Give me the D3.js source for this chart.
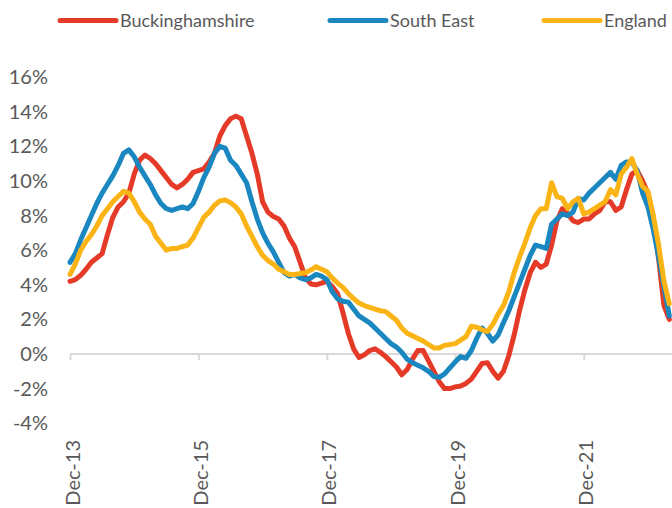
<!DOCTYPE html>
<html><head><meta charset="utf-8">
<script src="https://cdn.jsdelivr.net/npm/d3@7/dist/d3.min.js"></script>
<style>
html,body{margin:0;padding:0;background:#fff;}
svg{display:block;}
</style></head>
<body>
<svg id="c" width="672" height="508"></svg>
<script>
// Monthly series starting Dec-13 (index 0)
const seriesNames = ["Buckinghamshire", "South East", "England"];
const buckinghamshire = [4.2,4.3,4.55,4.9,5.3,5.55,5.8,6.9,7.9,8.5,8.8,9.3,10.4,11.2,11.5,11.3,11.0,10.6,10.2,9.8,9.6,9.8,10.1,10.5,10.6,10.7,11.1,11.6,12.6,13.2,13.6,13.75,13.6,12.6,11.6,10.4,8.8,8.2,7.95,7.8,7.4,6.7,6.2,5.3,4.4,4.05,4.0,4.1,4.2,3.9,3.5,2.4,1.2,0.3,-0.2,-0.05,0.2,0.3,0.1,-0.15,-0.45,-0.75,-1.2,-0.9,-0.3,0.2,0.2,-0.4,-1.0,-1.6,-2.0,-2.0,-1.9,-1.85,-1.7,-1.45,-1.0,-0.55,-0.5,-1.0,-1.4,-1.0,-0.1,1.1,2.5,3.7,4.7,5.3,5.0,5.2,6.3,7.7,8.4,8.1,7.7,7.6,7.8,7.8,8.1,8.3,8.8,8.8,8.3,8.5,9.5,10.4,10.6,10.0,9.3,7.9,5.5,2.8,2.0];
const southEast = [5.3,5.8,6.6,7.3,8.0,8.7,9.3,9.8,10.3,10.9,11.6,11.8,11.4,10.8,10.3,9.8,9.2,8.7,8.4,8.3,8.4,8.5,8.4,8.7,9.4,10.2,10.8,11.6,12.0,11.9,11.2,10.9,10.4,9.9,8.8,7.8,7.0,6.4,5.9,5.3,4.7,4.5,4.6,4.4,4.3,4.4,4.6,4.5,4.3,3.6,3.2,3.05,3.0,2.6,2.2,2.0,1.8,1.5,1.2,0.9,0.6,0.4,0.1,-0.3,-0.5,-0.65,-0.8,-1.0,-1.3,-1.35,-1.15,-0.8,-0.45,-0.15,-0.25,0.2,0.9,1.5,1.2,0.75,1.1,1.8,2.5,3.3,4.1,4.9,5.7,6.3,6.2,6.1,7.5,7.8,8.1,8.0,8.2,9.0,8.9,9.3,9.6,9.9,10.2,10.5,10.1,10.9,11.1,11.1,10.6,9.3,8.5,7.2,5.6,3.9,2.2];
const england = [4.6,5.2,6.0,6.5,6.9,7.4,8.0,8.4,8.8,9.1,9.4,9.3,8.8,8.2,7.8,7.5,6.8,6.4,6.0,6.1,6.1,6.2,6.3,6.7,7.3,7.9,8.2,8.6,8.85,8.9,8.75,8.5,8.1,7.4,6.8,6.2,5.7,5.4,5.2,4.9,4.75,4.6,4.6,4.65,4.7,4.85,5.05,4.9,4.75,4.4,4.1,3.85,3.5,3.2,2.95,2.8,2.7,2.6,2.5,2.45,2.2,1.95,1.5,1.2,1.05,0.9,0.75,0.55,0.35,0.35,0.5,0.55,0.6,0.8,1.0,1.6,1.55,1.4,1.3,1.7,2.3,2.8,3.6,4.7,5.6,6.4,7.3,8.0,8.4,8.4,9.9,9.1,9.0,8.4,8.8,9.0,8.1,8.2,8.4,8.6,8.8,9.5,9.2,10.4,10.8,11.3,10.4,9.7,9.4,8.0,6.3,4.2,2.9];
const xTickMonths = [0, 24, 48, 72, 96];
const xTickLabels = ["Dec-13", "Dec-15", "Dec-17", "Dec-19", "Dec-21"];
const yTicks = [-4, -2, 0, 2, 4, 6, 8, 10, 12, 14, 16];

const colors = ["#E53A27", "#1A87C0", "#FBB416"];
const allSeries = [buckinghamshire, southEast, england];

const svg = d3.select("#c");
const x = d3.scaleLinear().domain([0, 112.5]).range([70, 672]);
const y = d3.scaleLinear().domain([-4, 16]).range([423.2, 77.2]);
const textColor = "#595959";
const font = "Lato, 'Open Sans', sans-serif";

// y axis labels (no axis line)
const yAxis = d3.axisLeft(y).tickValues(yTicks).tickSize(0).tickPadding(0)
  .tickFormat(d => d + "%");
const yg = svg.append("g").attr("transform", "translate(48,0)").call(yAxis);
yg.select(".domain").remove();
yg.selectAll("text").attr("fill", textColor).style("font-family", font).style("font-size", "20px");

// x axis at zero line
const xAxis = d3.axisBottom(x).tickValues(xTickMonths).tickSize(6)
  .tickFormat((d, i) => xTickLabels[i]);
const xg = svg.append("g").attr("transform", `translate(0,${y(0)})`).call(xAxis);
xg.select(".domain").attr("stroke", "#D9D9D9").attr("stroke-width", 2)
  .attr("d", `M${x(0)},0H672`);
xg.selectAll(".tick line").attr("stroke", "#D9D9D9").attr("stroke-width", 2);
xg.selectAll("text")
  .attr("fill", textColor)
  .style("font-family", font).style("font-size", "20px")
  .attr("text-anchor", "end")
  .attr("x", 0).attr("y", 0).attr("dy", null)
  .attr("transform", `translate(9,${440 - y(0)}) rotate(-90)`);

// lines
const line = d3.line().x((d, i) => x(i)).y(d => y(d));
allSeries.forEach((s, k) => {
  svg.append("path").datum(s)
    .attr("fill", "none")
    .attr("stroke", colors[k])
    .attr("stroke-width", 5)
    .attr("stroke-linejoin", "round")
    .attr("stroke-linecap", "round")
    .attr("d", line);
});

// legend
const legendX = [60, 330, 544];
const lg = svg.append("g");
seriesNames.forEach((n, k) => {
  const g = lg.append("g").attr("transform", `translate(${legendX[k]},20.5)`);
  g.append("line").attr("x1", 0).attr("x2", 56).attr("y1", 0).attr("y2", 0)
    .attr("stroke", colors[k]).attr("stroke-width", 5).attr("stroke-linecap", "round");
  g.append("text").attr("x", 60).attr("y", 6.5).text(n)
    .attr("fill", textColor).style("font-family", font).style("font-size", "18px");
});
</script>
</body></html>
